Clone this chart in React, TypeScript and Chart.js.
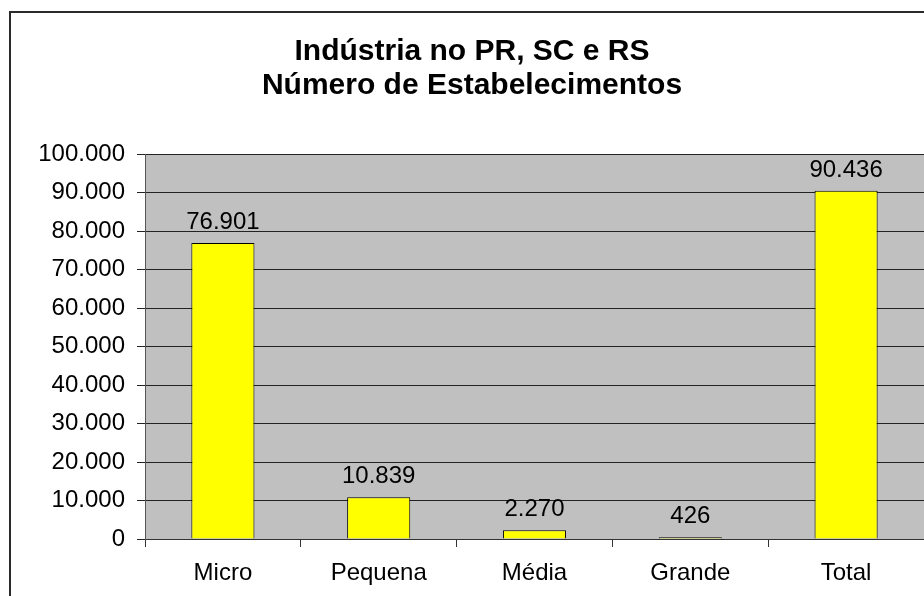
import React, { useEffect, useRef } from "react";
import { Chart, registerables } from "chart.js";

Chart.register(...registerables);

const categories = ["Micro", "Pequena", "Média", "Grande", "Total"];
const establishments = [76901, 10839, 2270, 426, 90436];
const titleLines = ["Indústria no PR, SC e RS", "Número de Estabelecimentos"];
const yMax = 100000;
const yStep = 10000;

const FONT = "'Liberation Sans', Arial, Helvetica, sans-serif";

const fmt = (v: number) => String(v).replace(/\B(?=(\d{3})+(?!\d))/g, ".");

export default function App() {
  const ref = useRef<HTMLCanvasElement | null>(null);

  useEffect(() => {
    if (!ref.current) return;
    const framePlugin = {
      id: "frameAndTitle",
      beforeDraw(chart: any) {
        const { ctx, chartArea } = chart;
        ctx.save();
        ctx.fillStyle = "#ffffff";
        ctx.fillRect(0, 0, chart.width, chart.height);
        ctx.fillStyle = "#C0C0C0";
        ctx.fillRect(chartArea.left, chartArea.top, chartArea.right - chartArea.left, chartArea.bottom - chartArea.top);
        ctx.strokeStyle = "#2a2a2a";
        ctx.lineWidth = 2;
        ctx.strokeRect(10, 12, chart.width + 20, chart.height + 20);
        ctx.fillStyle = "#000";
        ctx.font = `bold 30px ${FONT}`;
        ctx.textAlign = "center";
        ctx.textBaseline = "alphabetic";
        ctx.fillText(titleLines[0], 472, 60);
        ctx.fillText(titleLines[1], 472, 94);
        ctx.restore();
      },
      afterDatasetsDraw(chart: any) {
        const { ctx } = chart;
        const meta = chart.getDatasetMeta(0);
        ctx.save();
        ctx.fillStyle = "#000";
        ctx.font = `24px ${FONT}`;
        ctx.textAlign = "center";
        ctx.textBaseline = "alphabetic";
        meta.data.forEach((bar: any, i: number) => {
          ctx.fillText(fmt(establishments[i]), bar.x, bar.y - 14);
        });
        ctx.restore();
      },
    };

    const chart = new Chart(ref.current, {
      type: "bar",
      data: {
        labels: categories,
        datasets: [
          {
            data: establishments,
            backgroundColor: "#FFFF00",
            borderColor: "#000000",
            borderWidth: 1,
            barPercentage: 0.405,
            categoryPercentage: 1,
          },
        ],
      },
      options: {
        responsive: false,
        animation: false,
        layout: { padding: { top: 154, bottom: 0, left: 0, right: 0 } },
        plugins: {
          legend: { display: false },
          title: { display: false },
          tooltip: { enabled: false },
        },
        scales: {
          x: {
            afterFit(scale: any) {
              scale.height = 57;
            },
            grid: {
              offset: true,
              drawOnChartArea: false,
              drawTicks: true,
              tickLength: 8,
              color: "#333",
            },
            border: { display: true, color: "#333", width: 1 },
            ticks: {
              color: "#000",
              padding: 12,
              font: { family: FONT, size: 24 },
            },
          },
          y: {
            min: 0,
            max: yMax,
            afterFit(scale: any) {
              scale.width = 145;
            },
            grid: {
              color: "#222",
              drawTicks: true,
              tickLength: 8,
            },
            border: { display: true, color: "#555", width: 1 },
            ticks: {
              stepSize: yStep,
              color: "#000",
              padding: 12,
              font: { family: FONT, size: 24 },
              callback: (v: any) => fmt(Number(v)),
            },
          },
        },
      },
      plugins: [framePlugin],
    });
    return () => chart.destroy();
  }, []);

  return (
    <canvas
      ref={ref}
      width={924}
      height={596}
      style={{ position: "absolute", left: 0, top: 0, width: 924, height: 596 }}
    />
  );
}
